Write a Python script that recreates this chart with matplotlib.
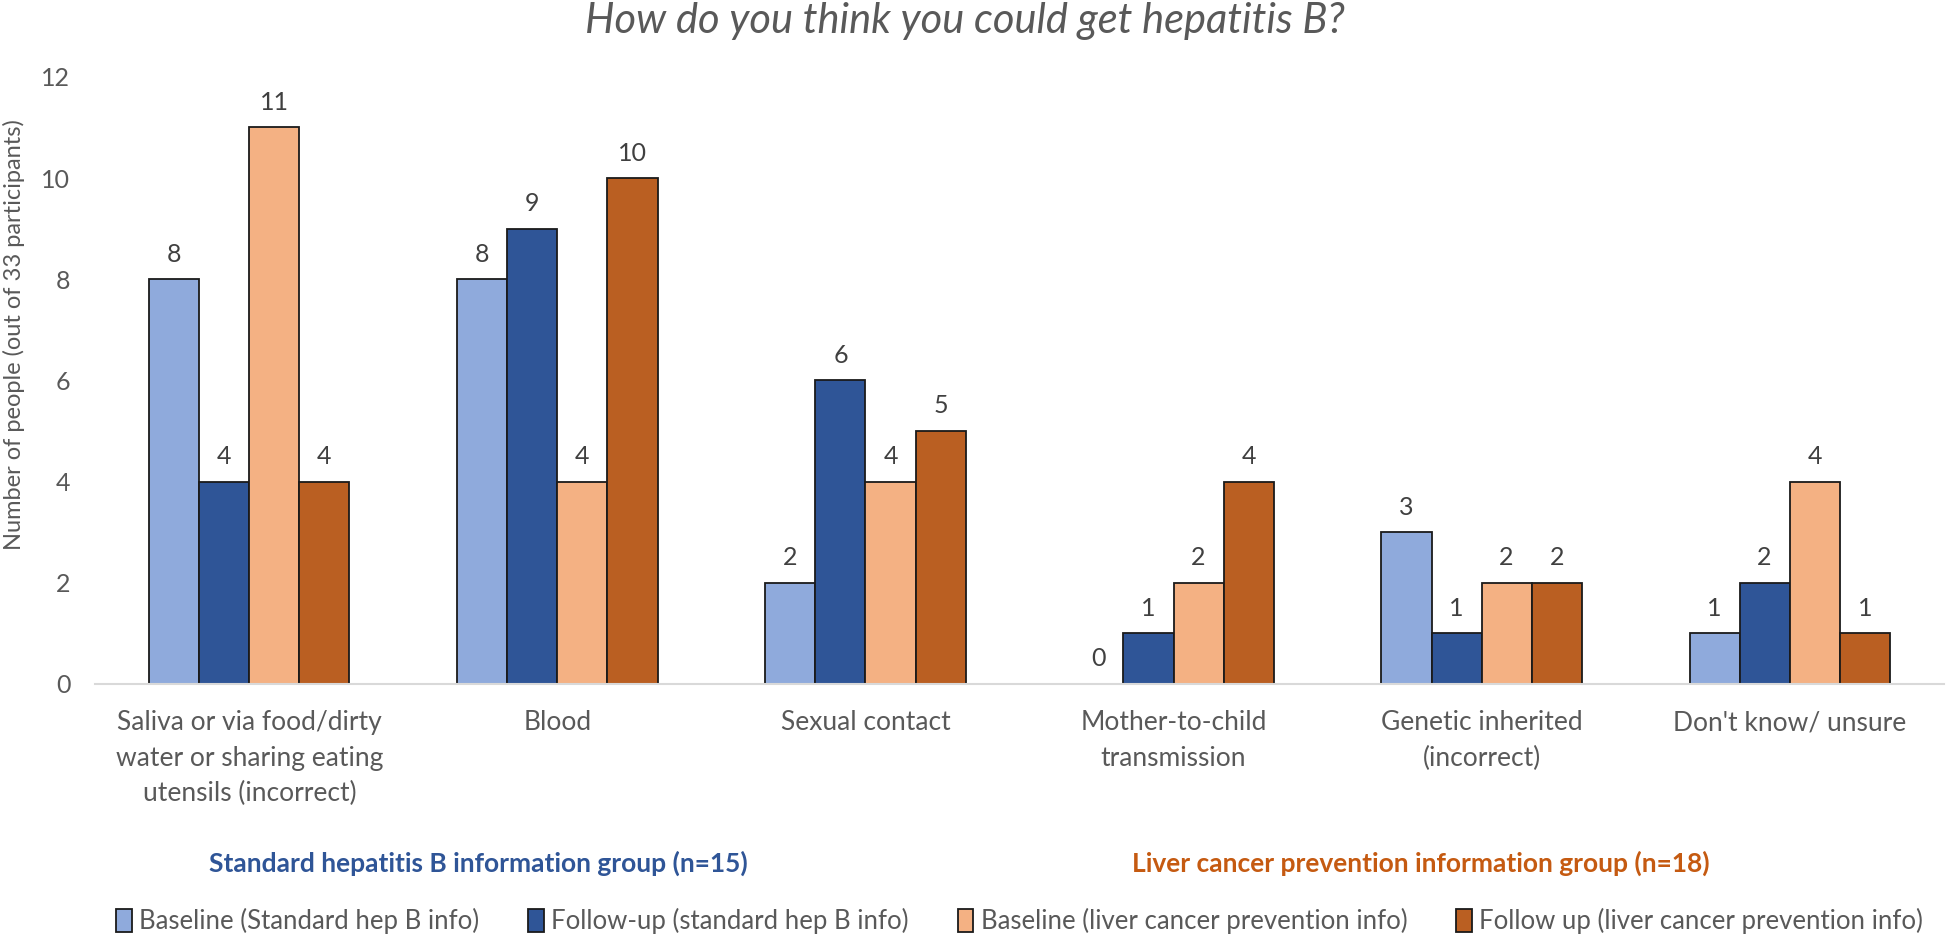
import numpy as np
import matplotlib.pyplot as plt

# categories and counts
categories = [
    "Saliva or via food/dirty\nwater or sharing eating\nutensils (incorrect)",
    "Blood",
    "Sexual contact",
    "Mother-to-child\ntransmission",
    "Genetic inherited\n(incorrect)",
    "Don't know/ unsure",
]
baseline_std = [8, 8, 2, 0, 3, 1]
followup_std = [4, 9, 6, 1, 1, 2]
baseline_liver = [11, 4, 4, 2, 2, 4]
followup_liver = [4, 10, 5, 4, 2, 1]

series_names = [
    "Baseline (Standard hep B info)",
    "Follow-up (standard hep B info)",
    "Baseline (liver cancer prevention info)",
    "Follow up (liver cancer prevention info)",
]
colors = ["#8FAADC", "#2F5597", "#F4B183", "#BA5F22"]
yticks = [0, 2, 4, 6, 8, 10, 12]

plt.rcParams['font.family'] = ['Lato', 'DejaVu Sans']

fig = plt.figure(figsize=(19.46, 9.38), dpi=100)
ax = fig.add_axes([0.049, 0.271, 0.9498, 0.647])

x = np.arange(len(categories))
group_w = 0.65
bar_w = group_w / 4
series = [baseline_std, followup_std, baseline_liver, followup_liver]

for i, (vals, name, col) in enumerate(zip(series, series_names, colors)):
    pos = x - group_w / 2 + bar_w * (i + 0.5)
    bars = ax.bar(pos, vals, width=bar_w, color=col, edgecolor="#1a1a1a",
                  linewidth=1.3, label=name)
    for b, v in zip(bars, vals):
        ax.annotate(str(v), (b.get_x() + b.get_width() / 2, v),
                    xytext=(0, 18), textcoords="offset points",
                    ha="center", va="center", fontsize=18, color="#404040")

ax.set_xlim(-0.5, len(categories) - 0.5)
ax.set_ylim(0, 12)
ax.set_yticks(yticks)
ax.set_xticks(x)
ax.set_xticklabels(categories, linespacing=1.52)
ax.tick_params(axis="y", length=0, pad=18, labelsize=18, labelcolor="#595959")
ax.tick_params(axis="x", length=0, pad=19, labelsize=19, labelcolor="#595959")

for s in ["top", "right", "left"]:
    ax.spines[s].set_visible(False)
ax.spines["bottom"].set_color("#D9D9D9")
ax.spines["bottom"].set_linewidth(1.5)

ax.set_ylabel("Number of people (out of 33 participants)", fontsize=17,
              color="#595959")
ax.yaxis.set_label_coords(-0.038, 0.575)

fig.text(0.496, 0.978, "How do you think you could get hepatitis B?",
         ha="center", va="center", fontsize=30, style="italic", color="#595959")

fig.text(0.246, 0.080, "Standard hepatitis B information group (n=15)",
         ha="center", va="center", fontsize=19, fontweight="bold", color="#2F5597")
fig.text(0.730, 0.080, "Liver cancer prevention information group (n=18)",
         ha="center", va="center", fontsize=19, fontweight="bold", color="#C55A11")

leg = fig.legend(loc="center", bbox_to_anchor=(0.524, 0.018), ncol=4,
                 frameon=False, fontsize=18.5, handlelength=0.6, handleheight=1.0,
                 handletextpad=0.3, columnspacing=1.9, labelcolor="#595959")

fig.savefig("out.png", dpi=100)
